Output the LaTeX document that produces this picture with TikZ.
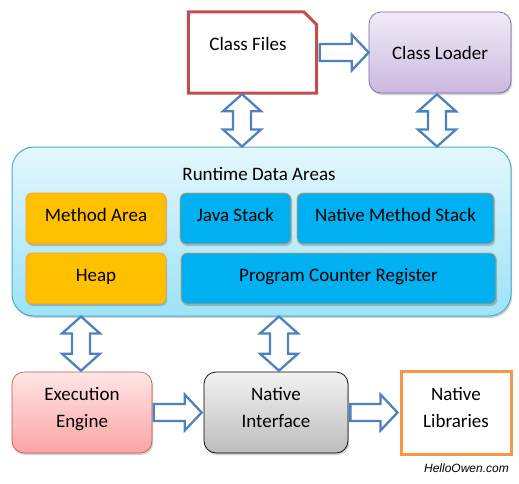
\documentclass[tikz,border=0pt]{standalone}
\usepackage{fontspec}
\setmainfont{Carlito}
\newfontfamily\hofont{Liberation Sans}
\usetikzlibrary{calc,shadows}
\definecolor{arrowblue}{HTML}{4F81BD}
\definecolor{cfred}{HTML}{C0504D}
\definecolor{rdaborder}{HTML}{4BACC6}
\definecolor{rdatop}{HTML}{E4F7FD}
\definecolor{rdabot}{HTML}{9CE3F8}
\definecolor{gold}{HTML}{FFC000}
\definecolor{skyblue}{HTML}{00B0F0}
\definecolor{orangeedge}{HTML}{F79646}
\definecolor{cltop}{HTML}{F0EBF7}
\definecolor{clbot}{HTML}{CBB9DF}
\definecolor{clborder}{HTML}{8064A2}
\definecolor{eetop}{HTML}{FFE6E6}
\definecolor{eebot}{HTML}{FBA4A4}
\definecolor{nitop}{HTML}{F2F2F2}
\definecolor{nibot}{HTML}{BDBDBD}
\newcommand\bw{8.5pt}
\newcommand\bh{18pt}
\newcommand\bL{17pt}
\newcommand\blkarrow[2]{%
  \path (#1) coordinate (bA) (#2) coordinate (bB);
  \path ($(bB)!\bL!(bA)$) coordinate (bH);
  \draw[blockarrow] ($(bA)!\bw!90:(bB)$) -- ($(bH)!\bw!90:(bB)$) -- ($(bH)!\bh!90:(bB)$) -- (bB)
     -- ($(bH)!\bh!-90:(bB)$) -- ($(bH)!\bw!-90:(bB)$) -- ($(bA)!\bw!-90:(bB)$) -- cycle;}
\newcommand\dblarrow[2]{%
  \path (#1) coordinate (bA) (#2) coordinate (bB);
  \path ($(bA)!\bL!(bB)$) coordinate (bH1) ($(bB)!\bL!(bA)$) coordinate (bH2);
  \draw[blockarrow] (bA) -- ($(bH1)!\bh!90:(bB)$) -- ($(bH1)!\bw!90:(bB)$) -- ($(bH2)!\bw!90:(bB)$)
     -- ($(bH2)!\bh!90:(bB)$) -- (bB) -- ($(bH2)!\bh!-90:(bB)$) -- ($(bH2)!\bw!-90:(bB)$)
     -- ($(bH1)!\bw!-90:(bB)$) -- ($(bH1)!\bh!-90:(bB)$) -- cycle;}
\begin{document}
\begin{tikzpicture}[x=1pt,y=-1pt,
  every node/.style={inner sep=0pt, font=\fontsize{19}{27}\selectfont},
  blockarrow/.style={draw=arrowblue, line width=2.3pt, fill=white, line join=miter},
  shad/.style={drop shadow={shadow xshift=1.2pt, shadow yshift=-2pt, opacity=0.18, fill=black}},
  bigbox/.style={rounded corners=12pt, minimum width=140pt, minimum height=81pt, shad},
  lbl/.style={align=center},
  inbox/.style={rounded corners=6pt, minimum height=51pt, draw=orangeedge, line width=0.7pt, shad,
     text height=12pt, text depth=7pt},
]
\useasboundingbox (0,0) rectangle (519,483);
% Runtime data areas
\node[rounded corners=22pt, minimum width=499pt, minimum height=169pt, draw=rdaborder, line width=1pt,
      top color=rdatop, bottom color=rdabot, shad] (rda) at (261.5,231.5) {};
\node (title) at (259,174) {Runtime Data Areas};
\node[inbox, minimum width=140pt, fill=gold] (ma) at (96,218.5) {Method Area};
\node[inbox, minimum width=140pt, fill=gold] (heap) at (96,278.5) {Heap};
\node[inbox, minimum width=111pt, fill=skyblue] (js) at (235.5,218.5) {Java Stack};
\node[inbox, minimum width=197pt, fill=skyblue] (nms) at (395.5,218.5) {Native Method Stack};
\node[inbox, minimum width=315pt, fill=skyblue] (pcr) at (338.5,278.5) {Program Counter Register};
% Class files
\node[minimum width=128pt, minimum height=81pt] (cf) at (252.5,52.5) {};
\draw[draw=cfred, line width=3pt, line join=miter]
  (cf.south west) -- (cf.north west) -- ([xshift=-13pt]cf.north east) -- ([yshift=-13pt]cf.north east)
  -- (cf.south east) -- cycle;
\node[lbl] (cftext) at (248,44) {Class Files};
% Class loader
\node[bigbox, minimum width=142pt, draw=clborder, line width=0.7pt, top color=cltop, bottom color=clbot]
  (cl) at (440,52.5) {Class Loader};
% bottom row
\node[bigbox, draw=cfred, line width=0.6pt, top color=eetop, bottom color=eebot]
  (ee) at (82,412.5) {};
\node[lbl] (eetext) at (82,409.5) {Execution\\Engine};
\node[bigbox, minimum width=144pt, draw=black, line width=0.7pt, top color=nitop, bottom color=nibot]
  (ni) at (276,412.5) {};
\node[lbl] (nitext) at (276,407.5) {Native\\Interface};
\node[minimum width=110pt, minimum height=83pt, draw=orangeedge, line width=3pt, fill=white]
  (nl) at (456,412.5) {};
\node[lbl] (nltext) at (456,407) {Native\\Libraries};
\node[anchor=east, font=\hofont\itshape\fontsize{12}{14}\selectfont] (ho) at (509,468) {HelloOwen.com};
% arrows
\coordinate (a1) at ([xshift=-10.5pt]cf.south);
\coordinate (a2) at ([xshift=-3pt]cl.south);
\coordinate (a3) at ([xshift=-1pt]ee.north);
\coordinate (a4) at ([xshift=3pt]ni.north);
\blkarrow{[xshift=3pt]cf.east}{cl.west}
\blkarrow{[xshift=1.5pt]ee.east}{[xshift=-2pt]ni.west}
\blkarrow{[xshift=2pt]ni.east}{[xshift=-2pt]nl.west}
\renewcommand\bw{9pt}
\renewcommand\bh{19pt}
\dblarrow{[yshift=-1pt]a1}{a1 |- rda.north}
\dblarrow{[yshift=-1pt]a2}{a2 |- rda.north}
\dblarrow{a3 |- rda.south}{[yshift=1pt]a3}
\dblarrow{a4 |- rda.south}{[yshift=1pt]a4}
\end{tikzpicture}
\end{document}
